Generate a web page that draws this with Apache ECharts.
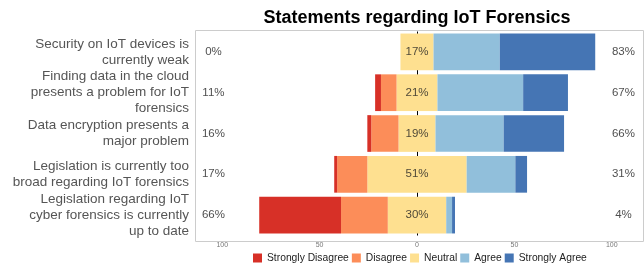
<!DOCTYPE html>
<html>
<head>
<meta charset="utf-8">
<script src="https://cdn.jsdelivr.net/npm/echarts@6/dist/echarts.min.js"></script>
<style>
  html, body { margin: 0; padding: 0; background: #fff; }
  #chart { width: 644px; height: 269px; }
</style>
</head>
<body>
<div id="chart"></div>
<script>
// statements (top to bottom)
var statements = [
  'Security on IoT devices is\ncurrently weak',
  'Finding data in the cloud\npresents a problem for IoT\nforensics',
  'Data encryption presents a\nmajor problem',
  'Legislation is currently too\nbroad regarding IoT forensics',
  'Legislation regarding IoT\ncyber forensics is currently\nup to date'
];
// shares in percent
var stronglyDisagree = [0, 3, 2, 1.5, 42];
var disagree = [0, 8, 14, 15.5, 24];
var neutral = [17, 21, 19, 51, 30];
var agree = [34, 44, 35, 25, 3];
var stronglyAgree = [49, 23, 31, 6, 1.5];
// printed totals
var leftPct = [0, 11, 16, 17, 66];
var rightPct = [83, 67, 66, 31, 4];
var tickValues = [-100, -50, 0, 50, 100];

var colors = {
  sd: '#d73027',
  d: '#fc8d59',
  n: '#fee090',
  a: '#91bfdb',
  sa: '#4575b4'
};

var chart = echarts.init(document.getElementById('chart'));

function neg (arr) {
  return arr.map(function (v) { return -v; });
}
function half (arr, sign) {
  return arr.map(function (v) { return sign * v / 2; });
}
function barSeries (name, data, color) {
  return {
    name: name,
    type: 'bar',
    stack: 'likert',
    data: data,
    barCategoryGap: '10%',
    itemStyle: { color: color },
    z: 2,
    silent: true
  };
}
function textSeries (xs, texts, color) {
  return {
    type: 'scatter',
    symbolSize: 0,
    silent: true,
    z: 5,
    data: xs.map(function (x, i) { return [x, statements[i], texts[i]]; }),
    label: {
      show: true,
      position: 'inside',
      formatter: function (p) { return p.data[2] + '%'; },
      color: color,
      fontSize: 11.5,
      fontFamily: 'Liberation Sans, Arial, sans-serif'
    }
  };
}

var option = {
  animation: false,
  title: {
    text: 'Statements regarding IoT Forensics',
    left: 412,
    textAlign: 'center',
    top: 4,
    textStyle: {
      fontFamily: 'Liberation Sans, Arial, sans-serif',
      fontWeight: 'bold',
      fontSize: 18,
      color: '#000'
    }
  },
  legend: {
    bottom: 1,
    left: 248,
    itemWidth: 9,
    itemHeight: 9,
    itemGap: 3,
    icon: 'rect',
    data: ['Strongly Disagree', 'Disagree', 'Neutral', 'Agree', 'Strongly Agree'],
    textStyle: {
      fontFamily: 'Liberation Sans, Arial, sans-serif',
      fontSize: 10.3,
      color: '#222'
    }
  },
  grid: {
    left: 193,
    right: 3,
    top: 31.5,
    bottom: 33.5
  },
  graphic: [{
    type: 'rect',
    left: 193,
    top: 28,
    shape: { width: 448, height: 211 },
    style: { fill: 'none', stroke: '#cccccc', lineWidth: 1 },
    z: 0,
    silent: true
  }],
  xAxis: {
    type: 'value',
    min: -115,
    max: 115,
    axisLine: { show: false },
    axisTick: { show: false },
    splitLine: { show: false },
    axisLabel: {
      customValues: tickValues,
      formatter: function (v) { return Math.abs(v); },
      fontSize: 7,
      color: '#777',
      margin: 6,
      fontFamily: 'Liberation Sans, Arial, sans-serif'
    }
  },
  yAxis: {
    type: 'category',
    inverse: true,
    data: statements,
    axisLine: { show: false },
    axisTick: { show: false },
    axisLabel: {
      margin: 4,
      fontSize: 13.5,
      lineHeight: 16,
      align: 'right',
      color: '#555',
      fontFamily: 'Liberation Sans, Arial, sans-serif'
    }
  },
  series: [
    {
      type: 'scatter',
      data: [],
      z: 1,
      silent: true,
      markLine: {
        silent: true,
        z: 1,
        symbol: 'none',
        label: { show: false },
        lineStyle: { color: '#000', width: 1, type: 'solid' },
        data: [{ xAxis: 0 }]
      }
    },
    barSeries('Neutral', half(neutral, -1), colors.n),
    barSeries('Neutral', half(neutral, 1), colors.n),
    barSeries('Disagree', neg(disagree), colors.d),
    barSeries('Agree', agree, colors.a),
    barSeries('Strongly Disagree', neg(stronglyDisagree), colors.sd),
    barSeries('Strongly Agree', stronglyAgree, colors.sa),
    textSeries(neutral.map(function () { return 0; }), neutral, '#222'),
    textSeries(leftPct.map(function () { return -104.5; }), leftPct, '#222'),
    textSeries(rightPct.map(function () { return 106; }), rightPct, '#222')
  ]
};

chart.setOption(option);
</script>
</body>
</html>
